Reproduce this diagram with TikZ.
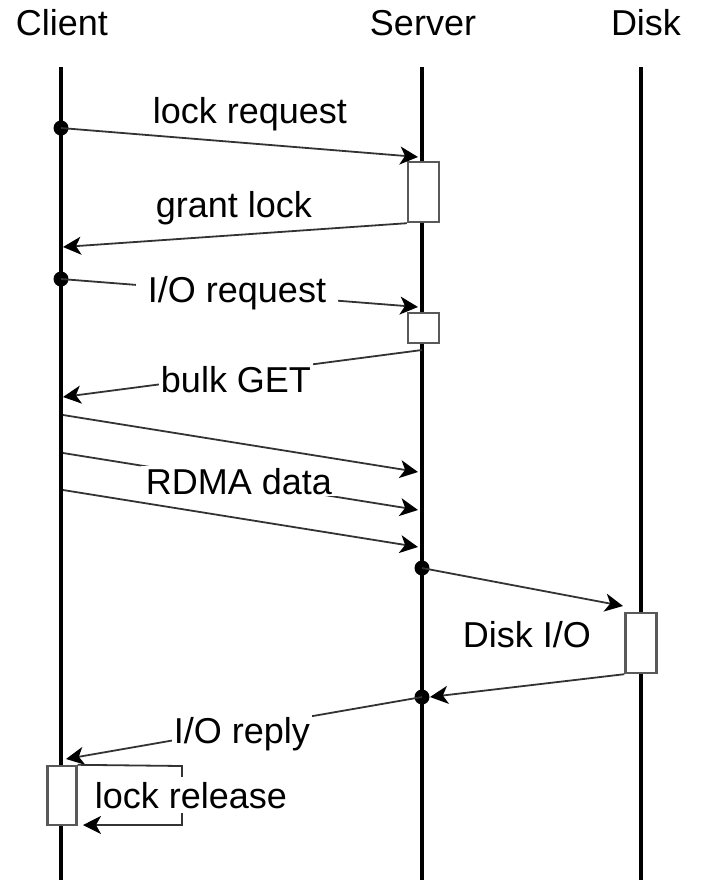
\documentclass[tikz,border=0pt]{standalone}
\usepackage{fontspec}
\setmainfont{Liberation Sans}
\usetikzlibrary{arrows.meta}

\begin{document}
\begin{tikzpicture}[
            x=0.5pt, y=-0.5pt,
            >={Stealth[length=9pt, width=9pt, inset=2.5pt, color=black]},
            msg/.style={->, line width=0.9pt, black!80},
            life/.style={line width=1.7pt},
            head/.style={anchor=base, font=\fontsize{18}{21}\selectfont},
            lbl/.style={anchor=base, inner sep=1pt, font=\fontsize{18}{21}\selectfont},
            lblcut/.style={lbl, fill=white, inner sep=2.5pt},
            actbox/.style={draw=black!65, line width=1.2pt, fill=white, minimum width=15.5pt, inner sep=0pt},
            evdot/.style={circle, fill=black, inner sep=0pt, minimum size=7.5pt}
        ]
        \useasboundingbox (0,0) rectangle (705,880);

        % 1. X-coordinates of the three lifelines
        \def\xC{61}
        \def\xS{422}
        \def\xD{641}
        \def\ytop{67}
        \def\ybot{880}

        % 2. Lifeline headers
        \node[head] (client) at (62,35) {Client};
        \node[head] (server) at (423,35) {Server};
        \node[head] (disk) at (646,35) {Disk};

        % 3. Vertical lifelines
        \coordinate (c-top) at (\xC,\ytop);
        \coordinate (c-bot) at (\xC,\ybot);
        \coordinate (s-top) at (\xS,\ytop);
        \coordinate (s-bot) at (\xS,\ybot);
        \coordinate (d-top) at (\xD,\ytop);
        \coordinate (d-bot) at (\xD,\ybot);
        \draw[life] (c-top) -- (c-bot);
        \draw[life] (s-top) -- (s-bot);
        \draw[life] (d-top) -- (d-bot);

        % 4. Activation boxes
        \node[actbox, minimum height=30pt] (sbox1) at (\xS+1.5,192) {};
        \node[actbox, minimum height=15pt] (sbox2) at (\xS+1.5,328) {};
        \node[actbox, minimum height=30pt] (dbox) at (\xD,643) {};
        \node[actbox, minimum height=29.5pt, minimum width=14.5pt] (cbox) at (62,795.5) {};

        % --- LOCK REQUEST ---
        \node[evdot] (lr-dot) at (\xC,128) {};
        \coordinate (lr-end) at (418,157);
        \draw[msg] (lr-dot.center) -- (lr-end);
        \node[lbl] (lr-lbl) at (250,123) {lock request};

        % --- GRANT LOCK ---
        \coordinate (gl-end) at (63,247);
        \draw[msg] (sbox1.south west) -- (gl-end);
        \node[lbl] (gl-lbl) at (234,217) {grant lock};

        % --- I/O REQUEST ---
        \node[evdot] (io-dot) at (\xC,279) {};
        \coordinate (io-end) at (418,307);
        \draw[msg] (io-dot.center) -- (io-end);
        \node[lblcut, inner xsep=6pt] (io-lbl) at (237,302) {I/O request};

        % --- BULK GET ---
        \coordinate (bg-start) at (\xS,350);
        \coordinate (bg-end) at (63,397);
        \draw[msg] (bg-start) -- (bg-end);
        \node[lblcut, inner xsep=1pt] (bg-lbl) at (236,392) {bulk GET};

        % --- RDMA DATA ---
        \foreach \i/\ya/\yb in {1/415/472, 2/453/510, 3/490/547} {
            \coordinate (rd\i-a) at (\xC+2,\ya);
            \coordinate (rd\i-b) at (418,\yb);
            \draw[msg] (rd\i-a) -- (rd\i-b);
        }
        \node[lblcut, inner ysep=1pt] (rd-lbl) at (239,494) {RDMA data};

        % --- DISK I/O ---
        \node[evdot] (dw-dot) at (\xS,568) {};
        \coordinate (dw-end) at (623,606);
        \draw[msg] (dw-dot.center) -- (dw-end);
        \node[lbl] (dio-lbl) at (527,647) {Disk I/O};

        \coordinate (dr-end) at (430,697);
        \draw[msg] (dbox.south west) -- (dr-end);
        \node[evdot] (dr-dot) at (\xS,697) {};

        % --- I/O REPLY ---
        \coordinate (ir-end) at (66,759);
        \draw[msg] (dr-dot.center) -- (ir-end);
        \node[lblcut, inner xsep=1pt] (ir-lbl) at (242,743) {I/O reply};

        % --- LOCK RELEASE ---
        \coordinate (rl-a) at (182,766);
        \coordinate (rl-b) at (182,825);
        \coordinate (rl-end) at (83,825);
        \draw[msg] (cbox.north east) -- (rl-a) -- (rl-b) -- (rl-end);
        \node[lblcut] (rl-lbl) at (191,808) {lock release};

        \end{tikzpicture}
\end{document}
